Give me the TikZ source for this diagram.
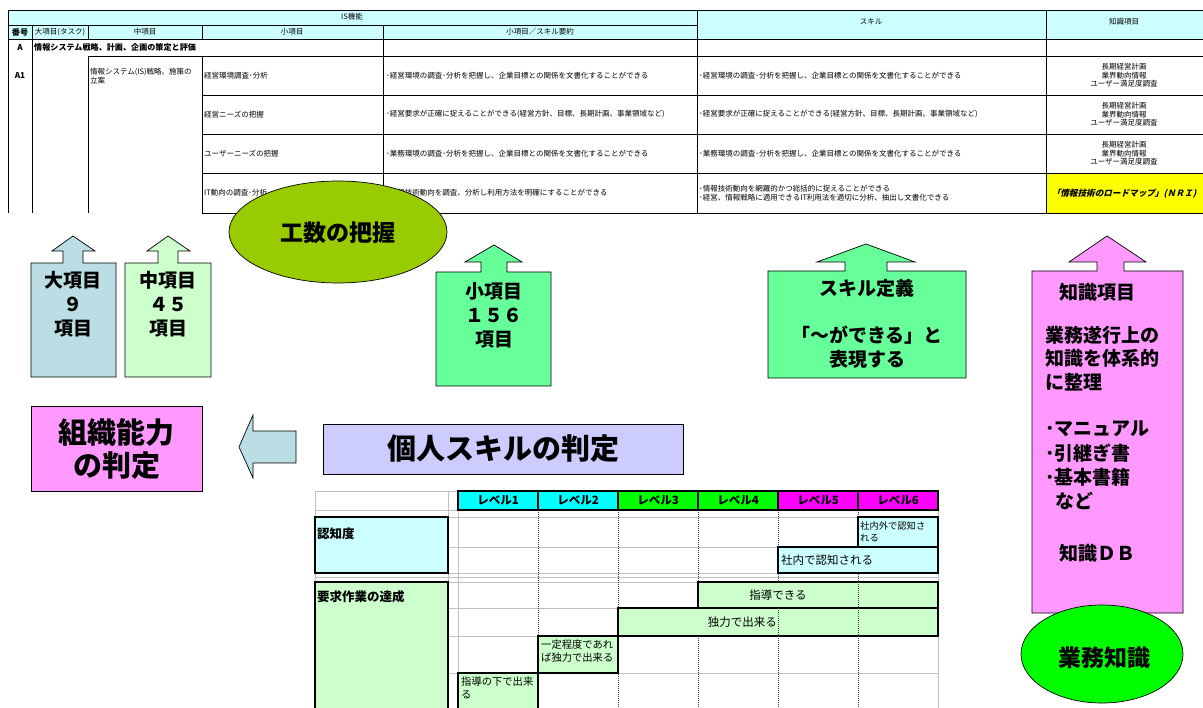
\documentclass[tikz,border=0pt]{standalone}
\usepackage{fontspec}
\setmainfont{Noto Sans CJK JP}[AutoFakeSlant=0.25]
\usetikzlibrary{shapes.geometric}
\definecolor{hdrcyan}{HTML}{CCFFFF}
\definecolor{kosu}{HTML}{99CC00}
\definecolor{bluegrey}{RGB}{186,222,228}
\definecolor{palegreen}{HTML}{CCFFCC}
\definecolor{midgreen}{HTML}{66FF99}
\definecolor{pink}{HTML}{FF99FF}
\definecolor{lavender}{HTML}{CCCCFF}
\definecolor{lvcyan}{HTML}{00FFFF}
\definecolor{lvgreen}{HTML}{00FF00}
\definecolor{lvmag}{HTML}{FF00FF}
\definecolor{gridgrey}{HTML}{C0C0C0}
\definecolor{yel}{HTML}{FFFF00}
\tikzset{
  tl/.style={line width=0.9pt, draw=black},
  tt/.style={inner sep=0pt, font=\fontsize{7.5}{8.6}\selectfont},
  ttb/.style={inner sep=0pt, font=\fontsize{8.1}{8.6}\selectfont\bfseries},
  bigtxt/.style={inner sep=0pt, align=center, font=\fontsize{19}{24}\selectfont\bfseries},
  shp/.style={draw=black, line width=0.7pt},
  gridln/.style={draw=gridgrey, line width=0.8pt},
  dashln/.style={draw=black!75, line width=0.7pt, dash pattern=on 1.2pt off 0.8pt},
  cellbox/.style={draw=black, line width=1.1pt},
  lvtxt/.style={inner sep=0pt, font=\fontsize{11.5}{13}\selectfont\bfseries},
  celltxt/.style={inner sep=0pt, font=\fontsize{11.5}{13}\selectfont},
  smalltxt/.style={inner sep=0pt, align=left, font=\fontsize{10.3}{13}\selectfont},
}
\begin{document}
\begin{tikzpicture}[x=1pt,y=-1pt]
\useasboundingbox (0,0) rectangle (1203,708);
\begin{scope}
\clip (0,0) rectangle (1203,708);
\fill[white] (0,0) rectangle (1203,708);
% ---------------- top table ----------------
\fill[hdrcyan] (8,10) rectangle (1210,39);
\fill[yel] (1046,173) rectangle (1210,213);
\draw[tl] (8,10) -- (1210,10);
\draw[tl] (8,25) -- (697,25);
\draw[tl] (8,39) -- (1210,39);
\draw[tl] (88,56) -- (1210,56);
\foreach \yy in {95,134,173,213} \draw[tl] (202,\yy) -- (1210,\yy);
\draw[tl] (8,10) -- (8,213);
\draw[tl] (32,25) -- (32,213);
\draw[tl] (88,25) -- (88,39);
\draw[tl] (88,56) -- (88,213);
\draw[tl] (202,25) -- (202,39);
\draw[tl] (202,56) -- (202,213);
\draw[tl] (383,25) -- (383,213);
\draw[tl] (697,10) -- (697,213);
\draw[tl] (1046,10) -- (1046,213);
% header texts
\node[tt] (hIS) at (352,17) {IS機能};
\node[tt] (hSkill) at (871,21.5) {スキル};
\node[tt] (hKnow) at (1124,21.5) {知識項目};
\node[ttb] (hNo) at (20,32) {番号};
\node[tt] (hDai) at (60,32) {大項目(タスク)};
\node[tt] (hChu) at (145,32) {中項目};
\node[tt] (hSho) at (292,32) {小項目};
\node[tt] (hSum) at (540,32) {小項目／スキル要約};
% row A
\node[ttb] (rA) at (20,47.5) {A};
\node[ttb, anchor=west] (rAt) at (34,47.5) {情報システム戦略、計画、企画の策定と評価};
\node[ttb] (rA1) at (20,75.5) {A1};
\node[tt, anchor=west, align=left] (chu1) at (90,76) {情報システム(IS)戦略、施策の\\立案};
% rows
\node[tt, anchor=west] (s1) at (204,75.5) {経営環境調査･分析};
\node[tt, anchor=west] (s2) at (204,114.5) {経営ニーズの把握};
\node[tt, anchor=west] (s3) at (204,153.5) {ユーザーニーズの把握};
\node[tt, anchor=west] (s4) at (204,193) {IT動向の調査･分析};
\node[tt, anchor=west] (m1) at (386,75.5) {･経営環境の調査･分析を把握し、企業目標との関係を文書化することができる};
\node[tt, anchor=west] (m2) at (386,114.5) {･経営要求が正確に捉えることができる(経営方針、目標、長期計画、事業領域など)};
\node[tt, anchor=west] (m3) at (386,153.5) {･業務環境の調査･分析を把握し、企業目標との関係を文書化することができる};
\node[tt, anchor=west] (m4) at (386,193) {･情報技術動向を調査、分析し利用方法を明確にすることができる};
\node[tt, anchor=west] (k1) at (699,75.5) {･経営環境の調査･分析を把握し、企業目標との関係を文書化することができる};
\node[tt, anchor=west] (k2) at (699,114.5) {･経営要求が正確に捉えることができる(経営方針、目標、長期計画、事業領域など)};
\node[tt, anchor=west] (k3) at (699,153.5) {･業務環境の調査･分析を把握し、企業目標との関係を文書化することができる};
\node[tt, anchor=west, align=left] (k4) at (699,193) {･情報技術動向を網羅的かつ総括的に捉えることができる\\･経営、情報戦略に適用できるIT利用法を適切に分析、抽出し文書化できる};
\node[tt, align=center] (n1) at (1124,75.5) {長期経営計画\\業界動向情報\\ユーザー満足度調査};
\node[tt, align=center] (n2) at (1124,114.5) {長期経営計画\\業界動向情報\\ユーザー満足度調査};
\node[tt, align=center] (n3) at (1124,153.5) {長期経営計画\\業界動向情報\\ユーザー満足度調査};
\node[inner sep=0pt, font=\fontsize{8.6}{9}\selectfont\bfseries\addfontfeature{FakeSlant=0.25}] (n4) at (1124,193.5) {「情報技術のロードマップ」(ＮＲＩ)};
% ellipse over table
\node[ellipse, shp, fill=kosu, minimum width=218pt, minimum height=102pt, inner sep=0pt] (kosu) at (338,232) {};
\node[inner sep=0pt, font=\fontsize{23}{26}\selectfont\bfseries] (kosut) at (338,233) {工数の把握};
% ---------------- block up-arrows ----------------
\draw[shp, fill=bluegrey] (31,263) -- (63,263) -- (63,251) -- (52,251) -- (73,236) -- (95,251) -- (83,251) -- (83,263) -- (116,263) -- (116,377) -- (31,377) -- cycle;
\node[bigtxt] (dai) at (73.5,304) {大項目\\９\\項目};
\draw[shp, fill=palegreen] (125,263) -- (158,263) -- (158,251) -- (147,251) -- (168,236) -- (190,251) -- (178,251) -- (178,263) -- (211,263) -- (211,377) -- (125,377) -- cycle;
\node[bigtxt] (chu) at (168,304) {中項目\\４５\\項目};
\draw[shp, fill=midgreen] (436,272) -- (481,272) -- (481,262) -- (465,262) -- (494,245) -- (522,262) -- (507,262) -- (507,272) -- (551,272) -- (551,386) -- (436,386) -- cycle;
\node[bigtxt] (sho) at (494,315) {小項目\\１５６\\項目};
\draw[shp, fill=midgreen] (768,271) -- (845,271) -- (845,262) -- (817,262) -- (866,244) -- (915,262) -- (887,262) -- (887,271) -- (966,271) -- (966,378) -- (768,378) -- cycle;
\node[bigtxt] (skill) at (867,324) {スキル定義\\[23.5pt]「～ができる」と\\表現する};
\draw[shp, fill=pink] (1032,271) -- (1097,271) -- (1097,262) -- (1069,262) -- (1107,236) -- (1146,262) -- (1124,262) -- (1124,271) -- (1183,271) -- (1183,613) -- (1032,613) -- cycle;
\node[bigtxt, anchor=west] (kn1) at (1059,292) {知識項目};
\node[bigtxt, anchor=north west, align=left, font=\fontsize{19}{23.5}\selectfont\bfseries] (kn2) at (1045,326) {業務遂行上の\\知識を体系的\\に整理};
\node[bigtxt, anchor=north west, align=left, font=\fontsize{19}{24.2}\selectfont\bfseries] (kn3) at (1045,421) {･マニュアル\\･引継ぎ書\\･基本書籍\\\hspace*{10pt}など};
\node[bigtxt, anchor=west] (kn4) at (1059,553) {知識ＤＢ};
\node[ellipse, shp, fill=lvgreen, minimum width=162pt, minimum height=98pt, inner sep=0pt] (gyomu) at (1102,654) {};
\node[inner sep=0pt, font=\fontsize{23}{26}\selectfont\bfseries] (gyomut) at (1104,658) {業務知識};
% ---------------- middle row ----------------
\node[shp, fill=pink, minimum width=171pt, minimum height=85pt, inner sep=0pt, align=center, font=\fontsize{29}{33}\selectfont\bfseries] (soshiki) at (116.5,448.5) {組織能力\\の判定};
\draw[shp, fill=bluegrey] (239,447) -- (253,415) -- (253,431) -- (296,431) -- (296,463) -- (253,463) -- (253,478) -- cycle;
\node[shp, fill=lavender, minimum width=360pt, minimum height=50pt, inner sep=0pt, font=\fontsize{29}{33}\selectfont\bfseries] (kojin) at (503,449) {個人スキルの判定};
% ---------------- bottom table ----------------
\foreach \yy in {491,510,517,547,573,577,582,608,636,673} \draw[gridln] (315,\yy) -- (938,\yy);
\foreach \xx in {315,448,458,938} \draw[gridln] (\xx,491) -- (\xx,712);
\foreach \xx in {538,618,698,778,858} \draw[dashln] (\xx,510) -- (\xx,712);
\draw[cellbox, fill=lvcyan] (458,491) rectangle (538,510);
\draw[cellbox, fill=lvcyan] (538,491) rectangle (618,510);
\draw[cellbox, fill=lvgreen] (618,491) rectangle (698,510);
\draw[cellbox, fill=lvgreen] (698,491) rectangle (778,510);
\draw[cellbox, fill=lvmag] (778,491) rectangle (858,510);
\draw[cellbox, fill=lvmag] (858,491) rectangle (938,510);
\node[lvtxt] (lv1) at (498,500.5) {レベル1};
\node[lvtxt] (lv2) at (578,500.5) {レベル2};
\node[lvtxt] (lv3) at (658,500.5) {レベル3};
\node[lvtxt] (lv4) at (738,500.5) {レベル4};
\node[lvtxt] (lv5) at (818,500.5) {レベル5};
\node[lvtxt] (lv6) at (898,500.5) {レベル6};
\draw[cellbox, fill=hdrcyan] (315,517) rectangle (448,573);
\node[lvtxt, anchor=west, font=\fontsize{12.5}{14}\selectfont\bfseries] (ninchi) at (317,534) {認知度};
\draw[cellbox, fill=palegreen] (315,582) rectangle (448,715);
\node[lvtxt, anchor=west, font=\fontsize{12.5}{14}\selectfont\bfseries] (yokyu) at (317,597) {要求作業の達成};
\draw[cellbox, fill=hdrcyan] (858,517) rectangle (938,547);
\node[smalltxt, anchor=north west, font=\fontsize{9.3}{12}\selectfont] (c1) at (860,521) {社内外で認知さ\\れる};
\draw[cellbox, fill=hdrcyan] (778,547) rectangle (938,573);
\node[celltxt, anchor=west] (c2) at (781,560) {社内で認知される};
\draw[cellbox, fill=palegreen] (698,582) rectangle (938,608);
\draw[dashln] (858,582) -- (858,608);
\node[celltxt] (c3) at (778,595.5) {指導できる};
\draw[cellbox, fill=palegreen] (618,608) rectangle (938,636);
\draw[dashln] (778,608) -- (778,636);
\draw[dashln] (858,608) -- (858,636);
\node[celltxt, anchor=east] (c4) at (777,622.5) {独力で出来る};
\draw[cellbox, fill=palegreen] (538,636) rectangle (618,673);
\node[smalltxt, anchor=north west] (c5) at (541,640) {一定程度であれ\\ば独力で出来る};
\draw[cellbox, fill=palegreen] (458,673) rectangle (538,715);
\node[smalltxt, anchor=north west] (c6) at (461,677) {指導の下で出来\\る};
\end{scope}
\end{tikzpicture}
\end{document}
